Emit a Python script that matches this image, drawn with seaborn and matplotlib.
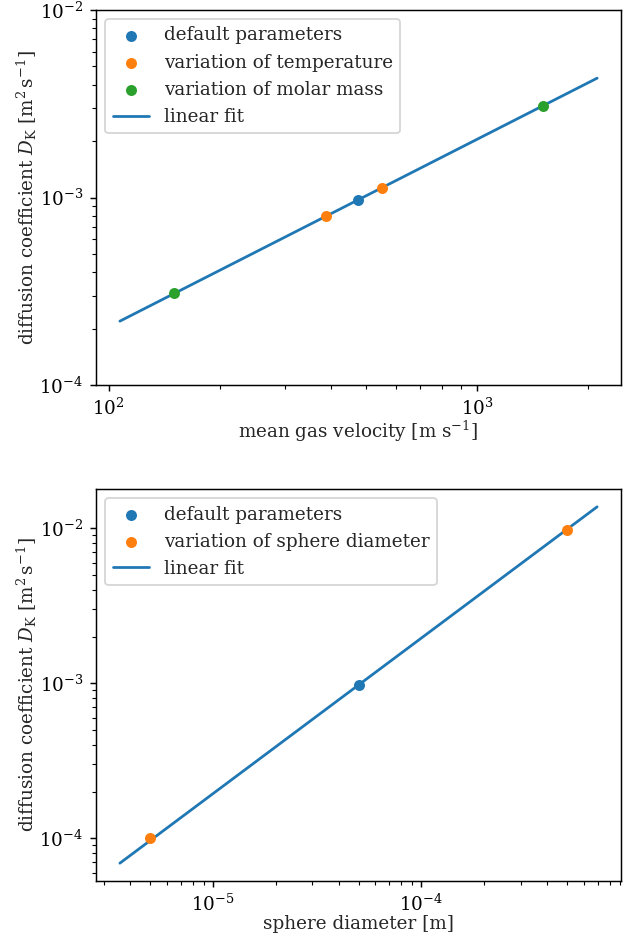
import numpy as np
import pandas as pd
import matplotlib
matplotlib.use("Agg")
import matplotlib.pyplot as plt
import seaborn as sns

sns.set_style("ticks")
plt.rcParams.update({
    "font.family": ["DejaVu Serif"],
    "mathtext.fontset": "dejavuserif",
    "axes.edgecolor": "black",
    "axes.linewidth": 0.8,
    "xtick.color": "black",
    "ytick.color": "black",
    "font.size": 10,
    "axes.labelsize": 10,
    "xtick.labelsize": 10,
    "ytick.labelsize": 10,
    "legend.fontsize": 10,
    "axes.labelpad": 0.0,
})

# ---- top panel data: mean gas velocity [m/s] vs. Knudsen diffusion coefficient
vel_default = [474.7]
D_vel_default = [9.7e-4]
vel_temp = [388.9, 550.0]
D_vel_temp = [7.96e-4, 1.13e-3]
vel_molar = [150.2, 1503.0]
D_vel_molar = [3.08e-4, 3.09e-3]
vel_fit = [107.3, 2112.0]
D_vel_fit = [2.19e-4, 4.33e-3]

# ---- bottom panel data: sphere diameter [m] vs. diffusion coefficient
dia_default = [5.0e-5]
D_dia_default = [9.7e-4]
dia_var = [5.0e-6, 4.97e-4]
D_dia_var = [1.0e-4, 9.8e-3]
dia_fit = [3.57e-6, 6.97e-4]
D_dia_fit = [6.9e-5, 1.377e-2]

blue, orange, green = sns.color_palette("tab10")[:3]

DPI = 132
W, H = 633, 940
fig, (ax1, ax2) = plt.subplots(2, 1, figsize=(W / DPI, H / DPI), dpi=DPI)
ax1.set_position([96 / W, (H - 385) / H, 525 / W, 375 / H])
ax2.set_position([96 / W, (H - 881) / H, 525 / W, 392 / H])

def pts(ax, x, y, color, label):
    sns.scatterplot(x=x, y=y, ax=ax, color=color, label=label, s=36,
                    linewidth=0, zorder=3)

pts(ax1, vel_default, D_vel_default, blue, "default parameters")
pts(ax1, vel_temp, D_vel_temp, orange, "variation of temperature")
pts(ax1, vel_molar, D_vel_molar, green, "variation of molar mass")
sns.lineplot(x=vel_fit, y=D_vel_fit, ax=ax1, color=blue, label="linear fit",
             linewidth=1.5, zorder=2)
ax1.set_xscale("log")
ax1.set_yscale("log")
ax1.set_ylim(1e-4, 1e-2)
ax1.set_xlabel(r"mean gas velocity [m s$^{-1}$]")
ax1.set_ylabel(r"diffusion coefficient $D_\mathrm{K}$ [m$^2\,$s$^{-1}$]")
ax1.legend(loc="upper left")

pts(ax2, dia_default, D_dia_default, blue, "default parameters")
pts(ax2, dia_var, D_dia_var, orange, "variation of sphere diameter")
sns.lineplot(x=dia_fit, y=D_dia_fit, ax=ax2, color=blue, label="linear fit",
             linewidth=1.5, zorder=2)
ax2.set_xscale("log")
ax2.set_yscale("log")
ax2.set_xlabel("sphere diameter [m]")
ax2.set_ylabel(r"diffusion coefficient $D_\mathrm{K}$ [m$^2\,$s$^{-1}$]")
ax2.legend(loc="upper left")

for ax in (ax1, ax2):
    for s in ax.spines.values():
        s.set_visible(True)
        s.set_color("black")
    ax.tick_params(which="both", direction="out", color="black")

fig.savefig("out.png", dpi=DPI)
